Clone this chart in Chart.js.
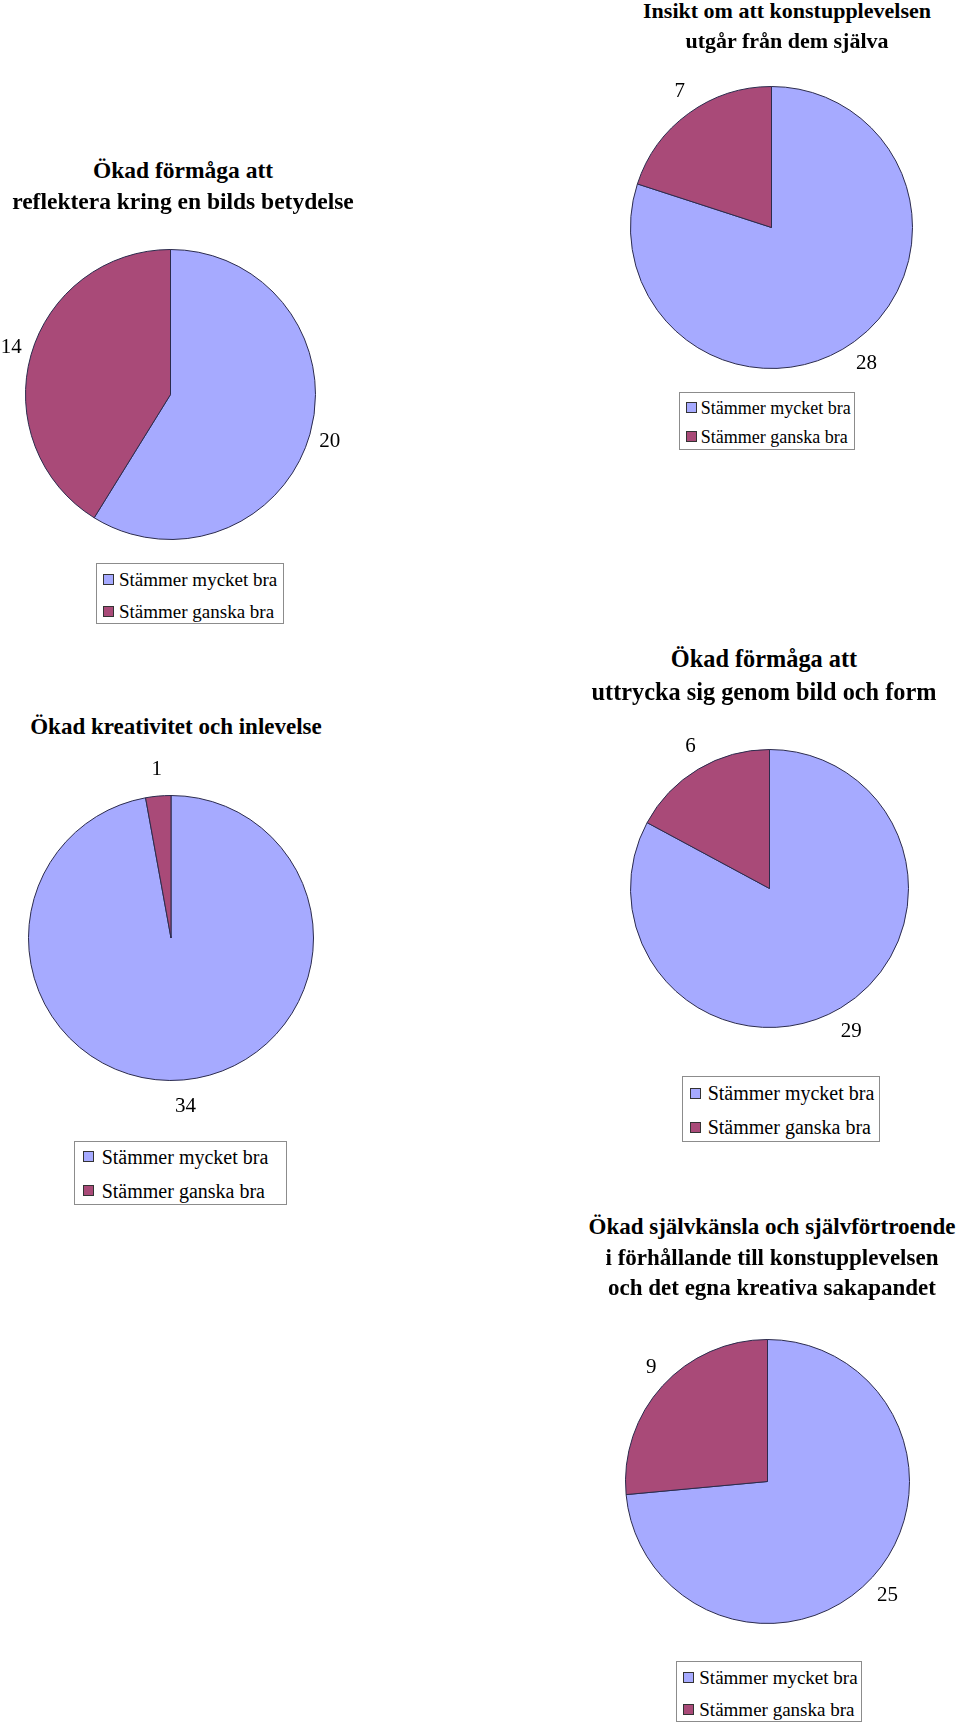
<!DOCTYPE html>
<html>
<head>
<meta charset="utf-8">
<script src="https://cdn.jsdelivr.net/npm/chart.js@4.4.0/dist/chart.umd.min.js"></script>
<style>
	body { margin: 0; background: #fff; }
	#page { position: relative; width: 960px; height: 1724px; overflow: hidden; font-family: "Liberation Serif", "Times New Roman", serif; color: #000; }
	.title { position: absolute; width: 600px; text-align: center; font-weight: bold; white-space: nowrap; }
	.legend { position: absolute; border: 1px solid #8c8c8c; background: #fff; box-sizing: border-box; }
	.legend .row { position: absolute; left: 0; white-space: nowrap; }
	.legend .box { position: absolute; width: 9px; height: 9px; border: 1px solid #333; }
	.legend .txt { position: absolute; }
	canvas { position: absolute; }
</style>
</head>
<body>
<div id="page"></div>
<script>
var categories = ['Stämmer mycket bra', 'Stämmer ganska bra'];
var colors = ['#a6aaff', '#a94a78'];

var titleReflektera = ['Ökad förmåga att', 'reflektera kring en bilds betydelse'];
var titleInsikt = ['Insikt om att konstupplevelsen', 'utgår från dem själva'];
var titleKreativitet = ['Ökad kreativitet och inlevelse'];
var titleUttrycka = ['Ökad förmåga att', 'uttrycka sig genom bild och form'];
var titleSjalvkansla = ['Ökad självkänsla och självförtroende', 'i förhållande till konstupplevelsen', 'och det egna kreativa sakapandet'];

var reflektera = [20, 14];
var insikt = [28, 7];
var kreativitet = [34, 1];
var uttrycka = [29, 6];
var sjalvkansla = [25, 9];

// where each chart sits on the page
var charts = [
	{
		title: titleReflektera, data: reflektera,
		cx: 170, cy: 394.5, r: 145.5,
		tx: 183, ty: 170.7, tGap: 31, tSize: 23.5,
		legend: { x: 96, y: 563, w: 188, h: 61, rows: [16.8, 48.8], bx: 7, lx: 23, size: 19 }
	},
	{
		title: titleInsikt, data: insikt,
		cx: 771.5, cy: 227, r: 141.5,
		tx: 787, ty: 11, tGap: 29.5, tSize: 22,
		legend: { x: 679, y: 392, w: 176, h: 58, rows: [15.7, 44.7], bx: 7, lx: 21.7, size: 18 }
	},
	{
		title: titleKreativitet, data: kreativitet,
		cx: 170.5, cy: 938, r: 143,
		tx: 176, ty: 726, tGap: 30, tSize: 23,
		legend: { x: 74, y: 1141, w: 213, h: 64, rows: [15.8, 49.5], bx: 9, lx: 27.7, size: 20 }
	},
	{
		title: titleUttrycka, data: uttrycka,
		cx: 769.5, cy: 888, r: 139.5,
		tx: 764, ty: 659.3, tGap: 32.4, tSize: 24.3,
		legend: { x: 682, y: 1076, w: 198, h: 66, rows: [17.3, 51], bx: 8, lx: 25.7, size: 20 }
	},
	{
		title: titleSjalvkansla, data: sjalvkansla,
		cx: 767.6, cy: 1481, r: 142.4,
		tx: 772, ty: 1226.8, tGap: 30.4, tSize: 23,
		legend: { x: 676, y: 1661, w: 186, h: 61, rows: [16.9, 48.1], bx: 7.3, lx: 23.3, size: 19 }
	}
];

var PAD = 50;

// value labels outside each slice, like the old office charts
var outsideLabels =
{
	id: 'outsideLabels',
	afterDatasetsDraw: function(chart)
	{
		var ctx = chart.ctx;
		var meta = chart.getDatasetMeta(0);
		var values = chart.data.datasets[0].data;
		ctx.save();
		ctx.font = '21px "Liberation Serif"';
		ctx.fillStyle = '#000';
		ctx.textAlign = 'center';
		ctx.textBaseline = 'middle';
		meta.data.forEach(function(arc, i)
		{
			var p = arc.getProps(['x', 'y', 'startAngle', 'endAngle', 'outerRadius'], true);
			var mid = (p.startAngle + p.endAngle) / 2;
			var dx = Math.cos(mid);
			var dy = Math.sin(mid);
			var text = String(values[i]);
			var tw = ctx.measureText(text).width;
			var x = p.x + dx * (p.outerRadius + 8) + dx * (tw / 2 + 2);
			var y = p.y + dy * (p.outerRadius + 8) + dy * 19;
			ctx.fillText(text, x, y);
		});
		ctx.restore();
	}
};

var page = document.getElementById('page');

function addTitle(c)
{
	c.title.forEach(function(line, i)
	{
		var d = document.createElement('div');
		d.className = 'title';
		d.textContent = line;
		d.style.fontSize = c.tSize + 'px';
		d.style.lineHeight = c.tSize + 'px';
		d.style.left = (c.tx - 300) + 'px';
		d.style.top = (c.ty + i * c.tGap - c.tSize / 2) + 'px';
		page.appendChild(d);
	});
}

function addLegend(c)
{
	var l = c.legend;
	var box = document.createElement('div');
	box.className = 'legend';
	box.style.left = l.x + 'px';
	box.style.top = l.y + 'px';
	box.style.width = l.w + 'px';
	box.style.height = l.h + 'px';
	categories.forEach(function(cat, i)
	{
		var sq = document.createElement('div');
		sq.className = 'box';
		sq.style.background = colors[i];
		sq.style.left = (l.bx - 1) + 'px';
		sq.style.top = (l.rows[i] - 6.5) + 'px';
		box.appendChild(sq);

		var t = document.createElement('div');
		t.className = 'txt';
		t.textContent = cat;
		t.style.fontSize = l.size + 'px';
		t.style.lineHeight = l.size + 'px';
		t.style.left = (l.lx - 1) + 'px';
		t.style.top = (l.rows[i] - 1 - l.size / 2) + 'px';
		box.appendChild(t);
	});
	page.appendChild(box);
}

function addPie(c)
{
	var size = Math.round(2 * (c.r + PAD));
	var cnvs = document.createElement('canvas');
	cnvs.width = size;
	cnvs.height = size;
	cnvs.style.width = size + 'px';
	cnvs.style.height = size + 'px';
	cnvs.style.left = Math.round(c.cx - size / 2) + 'px';
	cnvs.style.top = Math.round(c.cy - size / 2) + 'px';
	page.appendChild(cnvs);

	new Chart(cnvs.getContext('2d'), {
		type: 'pie',
		data: {
			labels: categories,
			datasets: [{
				data: c.data,
				backgroundColor: colors,
				borderColor: '#2b2b4d',
				borderWidth: 1
			}]
		},
		options: {
			responsive: false,
			animation: false,
			layout: { padding: PAD },
			plugins: {
				legend: { display: false },
				tooltip: { enabled: false }
			}
		},
		plugins: [outsideLabels]
	});
}

charts.forEach(function(c)
{
	addPie(c);
	addTitle(c);
	addLegend(c);
});
</script>
</body>
</html>
